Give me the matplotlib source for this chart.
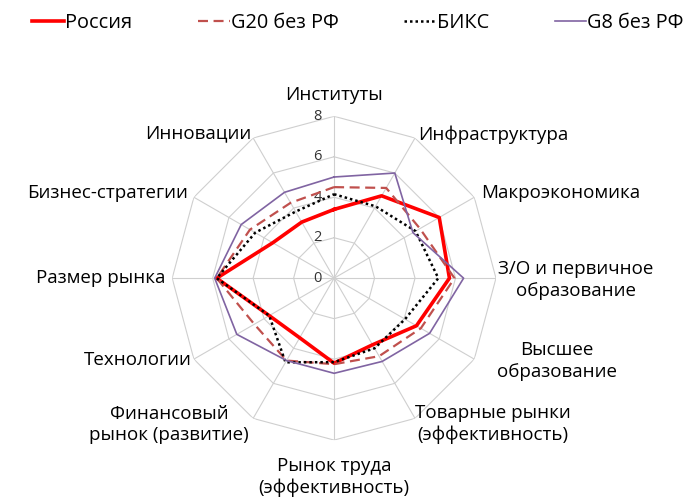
import numpy as np
import matplotlib.pyplot as plt

plt.rcParams['font.family'] = ['Open Sans', 'DejaVu Sans']

categories = ['Институты', 'Инфраструктура', 'Макроэкономика',
              'З/О и первичное\nобразование', 'Высшее\nобразование',
              'Товарные рынки\n(эффективность)', 'Рынок труда\n(эффективность)',
              'Финансовый\nрынок (развитие)', 'Технологии', 'Размер рынка',
              'Бизнес-стратегии', 'Инновации']
russia = [3.4, 4.7, 6.0, 5.7, 4.7, 3.8, 4.2, 3.4, 3.7, 5.8, 3.5, 3.2]
g20 = [4.5, 5.15, 4.9, 5.95, 4.95, 4.45, 4.25, 4.7, 4.55, 5.8, 4.8, 4.3]
biks = [4.15, 4.1, 4.65, 5.15, 4.05, 4.0, 4.15, 4.8, 3.7, 5.8, 4.5, 3.8]
g8 = [5.0, 6.0, 4.5, 6.4, 5.45, 4.75, 4.7, 4.7, 5.55, 5.9, 5.3, 4.9]
ticks = [0, 2, 4, 6, 8]

# label placement: offset from outer vertex in pixels, horizontal alignment
label_offsets = [(0, 21), (3, 3), (7, 4), (2, -2), (23, -2), (0, -6),
                 (0, -37), (-4, -6), (-2, -1), (-7, 0), (-6, 4), (-2, 5)]
label_ha = ['center', 'left', 'left', 'left', 'left', 'left',
            'center', 'right', 'right', 'right', 'right', 'right']

n = len(categories)
angles = np.arange(n) * 2 * np.pi / n
closed = np.append(angles, angles[0])

def close(v):
    return list(v) + [v[0]]

fig = plt.figure(figsize=(6.86, 4.99), dpi=100)
ax = fig.add_axes([0.251, 0.118, 0.472, 0.649], polar=True)
ax.set_theta_offset(np.pi / 2)
ax.set_theta_direction(-1)
ax.set_ylim(0, 8)
ax.grid(False)
ax.set_xticks([])
ax.set_yticks([])
ax.spines['polar'].set_visible(False)
ax.patch.set_visible(False)

grid_col = '#CFCFCF'
for t in ticks[1:]:
    ax.plot(closed, [t] * (n + 1), color=grid_col, lw=0.8, zorder=1)
for a in angles:
    ax.plot([a, a], [0, ticks[-1]], color=grid_col, lw=0.8, zorder=1)

for t in ticks:
    ax.annotate(str(t), xy=(0, t), xytext=(-9, 0), textcoords='offset points',
                ha='right', va='center', fontsize=10.5, color='#333333')

px = 0.72
for a, lab, (dx, dy), ha in zip(angles, categories, label_offsets, label_ha):
    ax.annotate(lab, xy=(a, ticks[-1]), xytext=(dx * px, dy * px),
                textcoords='offset points', ha=ha, va='center',
                multialignment='center', fontsize=13.5, color='black',
                linespacing=1.25)

l1, = ax.plot(closed, close(russia), color='#FF0000', lw=2.6, zorder=3)
l2, = ax.plot(closed, close(g20), color='#C0504D', lw=1.6,
              linestyle=(0, (4.5, 2.5)), zorder=4)
l3, = ax.plot(closed, close(biks), color='black', lw=1.8,
              linestyle=(0, (1, 1.2)), zorder=5)
l4, = ax.plot(closed, close(g8), color='#8064A2', lw=1.2, zorder=6)

fig.legend([l1, l2, l3, l4], ['Россия', 'G20 без РФ', 'БИКС', 'G8 без РФ'],
           loc='upper center', bbox_to_anchor=(0.522, 1.01), ncol=4,
           frameon=False, fontsize=14.3, handlelength=1.6,
           handletextpad=0.05, columnspacing=3.3)

fig.savefig('out.png', dpi=100)
